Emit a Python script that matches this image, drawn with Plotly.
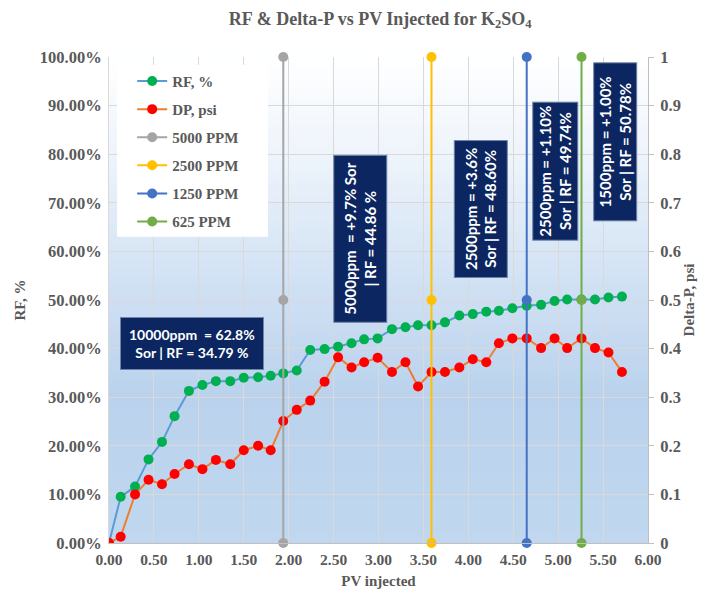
import plotly.graph_objects as go

# ---------------- data ----------------
pv = [0.00, 0.13, 0.29, 0.44, 0.59, 0.73, 0.89, 1.04, 1.19, 1.35, 1.50, 1.66, 1.80,
      1.94, 2.09, 2.24, 2.40, 2.55, 2.70, 2.84, 2.99, 3.15, 3.30, 3.44, 3.59, 3.74,
      3.90, 4.05, 4.20, 4.34, 4.49, 4.65, 4.81, 4.96, 5.10, 5.26, 5.41, 5.56, 5.71]
rf = [0.000, 0.095, 0.116, 0.172, 0.208, 0.261, 0.313, 0.325, 0.333, 0.333, 0.340,
      0.341, 0.344, 0.349, 0.355, 0.397, 0.399, 0.404, 0.411, 0.419, 0.421, 0.440,
      0.444, 0.448, 0.448, 0.454, 0.468, 0.471, 0.476, 0.478, 0.483, 0.488, 0.490,
      0.498, 0.501, 0.501, 0.501, 0.505, 0.507]
dp = [0.000, 0.013, 0.100, 0.130, 0.121, 0.142, 0.162, 0.152, 0.171, 0.162, 0.191,
      0.200, 0.191, 0.251, 0.274, 0.293, 0.332, 0.382, 0.361, 0.372, 0.381, 0.352,
      0.372, 0.322, 0.352, 0.352, 0.361, 0.378, 0.372, 0.411, 0.421, 0.421, 0.401,
      0.421, 0.401, 0.421, 0.401, 0.392, 0.352]

marker_names = ["5000 PPM", "2500 PPM", "1250 PPM", "625 PPM"]
marker_pv = [1.94, 3.59, 4.65, 5.26]
marker_levels = [0, 0.5, 1]

box_texts = [
    "10000ppm&nbsp;&nbsp;= 62.8%<br>Sor | RF = 34.79 %",
    "5000ppm&nbsp;&nbsp;= +9.7% Sor<br>| RF = 44.86 %",
    "2500ppm = +3.6%<br>Sor | RF = 48.60%",
    "2500ppm = +1.10%<br>Sor | RF = 49.74%",
    "&nbsp;&nbsp;&nbsp;1500ppm = +1.00%&nbsp;&nbsp;&nbsp;<br>&nbsp;&nbsp;&nbsp;Sor | RF = 50.78%&nbsp;&nbsp;&nbsp;",
]
box_x = [0.92, 2.80, 4.14, 4.97, 5.63]
box_y = [0.410, 0.625, 0.687, 0.765, 0.826]
box_angle = [0, -90, -90, -90, -90]
box_size = [14, 15, 15, 15, 15]
box_pad = [8, 7, 7, 3, 2]

# ---------------- styling ----------------
SERIF = "Liberation Serif"
GREY_TXT = "#595959"
marker_colors = ["#A5A5A5", "#FFC000", "#4472C4", "#70AD47"]

fig = go.Figure()

fig.add_trace(go.Scatter(
    x=pv, y=rf, name="RF, %", mode="lines+markers", legendgroup="a",
    line=dict(color="#5B9BD5", width=2),
    marker=dict(color="#00B050", size=10), yaxis="y"))
fig.add_trace(go.Scatter(
    x=pv, y=dp, name="DP, psi", mode="lines+markers", legendgroup="b",
    line=dict(color="#ED7D31", width=2),
    marker=dict(color="#FF0000", size=10), yaxis="y2"))
for i, (nm, xv) in enumerate(zip(marker_names, marker_pv)):
    fig.add_trace(go.Scatter(
        x=[xv] * len(marker_levels), y=marker_levels, name=nm, mode="lines+markers",
        legendgroup="g%d" % i,
        line=dict(color=marker_colors[i], width=2),
        marker=dict(color=marker_colors[i], size=10), yaxis="y2", cliponaxis=False))

# gradient background (strips)
stops = [(0.0, (192, 215, 239)), (0.3, (186, 210, 237)), (0.55, (210, 226, 244)),
         (0.8, (238, 244, 251)), (1.0, (255, 255, 255))]

def col_at(t):
    for (t0, c0), (t1, c1) in zip(stops[:-1], stops[1:]):
        if t0 <= t <= t1:
            f = (t - t0) / (t1 - t0)
            return "rgb(%d,%d,%d)" % tuple(round(a + (b - a) * f) for a, b in zip(c0, c1))
    return "rgb(255,255,255)"

N = 80
shapes = []
for k in range(N):
    y0 = k / N
    y1 = (k + 1) / N
    shapes.append(dict(type="rect", xref="x domain", yref="y domain", x0=0, x1=1,
                       y0=y0, y1=y1 + 0.002, fillcolor=col_at((y0 + y1) / 2),
                       line=dict(width=0), layer="below"))
# white legend panel
shapes.append(dict(type="rect", xref="x domain", yref="y domain",
                   x0=0.015, x1=0.295, y0=0.63, y1=0.984,
                   fillcolor="white", line=dict(width=0), layer="above"))

annotations = []
for t, xv, yv, ang, sz, pad in zip(box_texts, box_x, box_y, box_angle, box_size, box_pad):
    annotations.append(dict(
        text=t, x=xv, y=yv, xref="x", yref="y", showarrow=False, textangle=ang,
        font=dict(family="Lato", size=sz, color="white", weight="bold"),
        bgcolor="#0B2660", bordercolor="#6F84A8", borderwidth=1, borderpad=pad,
        align="center"))

ytickfont = dict(family=SERIF, size=16.5, color=GREY_TXT, weight="bold")
xtickfont = dict(family=SERIF, size=15.5, color=GREY_TXT, weight="bold")
titlefont = dict(family=SERIF, size=15, color=GREY_TXT, weight="bold")

fig.update_layout(
    width=709, height=602,
    margin=dict(l=101, r=69, t=49, b=67, autoexpand=False),
    paper_bgcolor="white", plot_bgcolor="white",
    title=dict(text="RF & Delta-P vs PV Injected for K<sub>2</sub>SO<sub>4</sub>",
               x=0.525, xanchor="center", y=0.983, yanchor="middle",
               font=dict(family=SERIF, size=18, color=GREY_TXT, weight="bold")),
    xaxis=dict(range=[0, 6], dtick=0.5, tick0=0, tickformat=".2f",
               showgrid=True, gridcolor="#D9D9D9", gridwidth=1,
               showline=True, linecolor="#BFBFBF", zeroline=False,
               tickfont=xtickfont, ticks="", ticklabelstandoff=2,
               title=dict(text="PV injected", font=titlefont, standoff=8)),
    yaxis=dict(range=[0, 1], dtick=0.1, tick0=0, tickformat=".2%",
               showgrid=True, gridcolor="#D9D9D9", gridwidth=1,
               showline=True, linecolor="#D9D9D9", zeroline=False,
               tickfont=ytickfont, ticks="", ticklabelstandoff=3,
               title=dict(text="RF, %", font=titlefont, standoff=10)),
    yaxis2=dict(range=[0, 1], dtick=0.1, tick0=0, overlaying="y", side="right",
                showgrid=False, zeroline=False, showline=True, linecolor="#BFBFBF",
                ticks="outside", ticklen=5, tickcolor="#BFBFBF",
                tickfont=ytickfont, ticklabelstandoff=3,
                title=dict(text="Delta-P, psi", font=titlefont, standoff=3)),
    legend=dict(x=0.043, y=0.984, xanchor="left", yanchor="top",
                bgcolor="rgba(255,255,255,0)", borderwidth=0,
                font=dict(family=SERIF, size=15, color=GREY_TXT, weight="bold"),
                tracegroupgap=5.6, itemwidth=30),
    shapes=shapes,
    annotations=annotations,
    showlegend=True,
)

fig.write_html("out.html")
